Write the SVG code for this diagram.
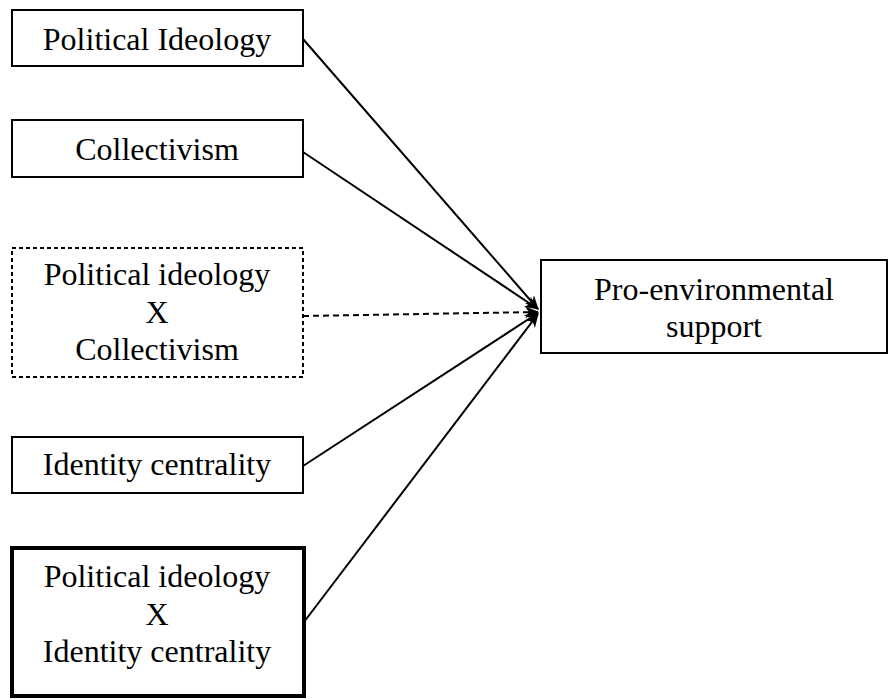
<svg xmlns="http://www.w3.org/2000/svg" width="888" height="700" viewBox="0 0 888 700">
<style>
.box{fill:#fff;stroke:#000;stroke-width:2}
.t{font-family:"Liberation Serif","Times New Roman",serif;font-size:32px;fill:#000;text-anchor:middle}
.c{stroke:#000;stroke-width:2;fill:none;marker-end:url(#ah)}
</style>
<defs>
<marker id="ah" markerWidth="14" markerHeight="12" refX="13" refY="6" orient="auto" markerUnits="userSpaceOnUse">
<path d="M0,0 L14,6 L0,12 L4,6 Z" fill="#000"/>
</marker>
</defs>
<rect width="888" height="700" fill="#fff"/>
<g id="connectors">
<line class="c" x1="303" y1="39" x2="538" y2="309"/>
<line class="c" x1="303" y1="152" x2="538" y2="309"/>
<line class="c" x1="303" y1="316" x2="538" y2="312" stroke-dasharray="6,4"/>
<line class="c" x1="303" y1="466" x2="538" y2="313"/>
<line class="c" x1="304" y1="622" x2="538" y2="314"/>
</g>
<g id="n1"><rect class="box" x="12" y="10" width="291" height="56"/><text class="t" x="157" y="50">Political Ideology</text></g>
<g id="n2"><rect class="box" x="12" y="120" width="291" height="57"/><text class="t" x="157" y="160">Collectivism</text></g>
<g id="n3"><rect class="box" x="12" y="248" width="291" height="129" style="stroke-dasharray:4,3"/><text class="t" x="157" y="285">Political ideology</text><text class="t" x="157" y="323">X</text><text class="t" x="157" y="360">Collectivism</text></g>
<g id="n4"><rect class="box" x="12" y="437" width="291" height="56"/><text class="t" x="157" y="475">Identity centrality</text></g>
<g id="n5"><rect class="box" x="12" y="548" width="292" height="148" style="stroke-width:4"/><text class="t" x="157" y="587">Political ideology</text><text class="t" x="157" y="625">X</text><text class="t" x="157" y="662">Identity centrality</text></g>
<g id="n6"><rect class="box" x="541" y="260" width="346" height="93"/><text class="t" x="714" y="300">Pro-environmental</text><text class="t" x="714" y="337">support</text></g>
</svg>
